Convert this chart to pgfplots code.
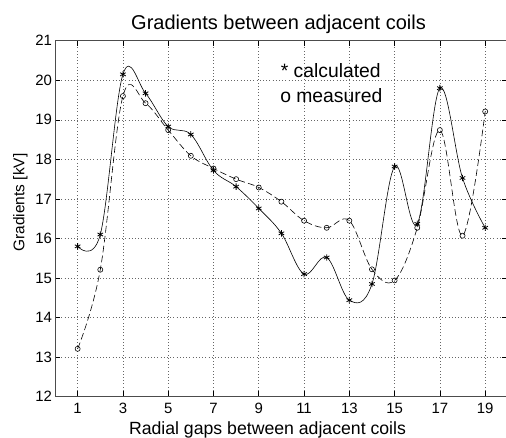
\documentclass[border=0pt]{standalone}
\usepackage{pgfplots}
\pgfplotsset{compat=1.18}
\usepackage{fontspec}
\setmainfont{Liberation Sans}
\begin{document}
\begin{tikzpicture}[x=0.75pt,y=0.75pt]
\path[use as bounding box, clip] (-55,-41.3) rectangle (451,396.7);
\begin{axis}[at={(0,0)}, anchor=south west, scale only axis,
  width=339.6pt, height=267pt,
  xmin=0, xmax=20, ymin=12, ymax=21,
  xtick={1,3,...,19}, ytick={12,...,21},
  tick align=inside, major tick length=4pt,
  tick style={black, line width=0.4pt},
  axis line style={black!70, line width=0.5pt},
  grid=major, major grid style={dotted, black!60, line width=0.4pt},
  /pgf/number format/assume math mode=true,
  tick label style={font=\fontsize{11.2}{13}\selectfont},
  xticklabel style={yshift=-1pt},
  yticklabel style={xshift=1.2pt},
  clip=false,
]
\addplot[black, line width=0.45pt, smooth, tension=0.6, mark=asterisk, mark size=2.4pt,
  mark options={solid, line width=0.6pt}] coordinates {
  (1,15.80) (2,16.10) (3,20.15) (4,19.67) (5,18.83) (6,18.63) (7,17.72)
  (8,17.31) (9,16.76) (10,16.13) (11,15.10) (12,15.52) (13,14.44) (14,14.85)
  (15,17.82) (16,16.37) (17,19.80) (18,17.53) (19,16.27)};
\addplot[black, line width=0.45pt, dash pattern=on 5pt off 2.5pt, smooth, tension=0.6,
  mark=o, mark size=1.9pt, mark options={solid}] coordinates {
  (1,13.21) (2,15.21) (3,19.60) (4,19.42) (5,18.74) (6,18.09) (7,17.77)
  (8,17.50) (9,17.29) (10,16.93) (11,16.45) (12,16.27) (13,16.45) (14,15.22)
  (15,14.94) (16,16.27) (17,18.74) (18,16.07) (19,19.21)};
\end{axis}
% labels placed in picture units (1 unit = 1 px of the reference, origin at axis corner)
\node[anchor=base, inner sep=0pt, font=\fontsize{15}{17}\selectfont] at (223.5,366.7) {Gradients between adjacent coils};
\node[anchor=base, inner sep=0pt, font=\fontsize{13.25}{15}\selectfont] at (212.5,-38.3) {Radial gaps between adjacent coils};
\node[anchor=base, rotate=90, inner sep=0pt, font=\fontsize{11.6}{14}\selectfont] at (-30.5,194.2) {Gradients [kV]};
\node[anchor=base west, inner sep=0pt, font=\fontsize{14.5}{17}\selectfont] at (225.5,319.4) {* calculated};
\node[anchor=base west, inner sep=0pt, font=\fontsize{14.5}{17}\selectfont] at (225,294.4) {o measured};
\end{tikzpicture}
\end{document}
